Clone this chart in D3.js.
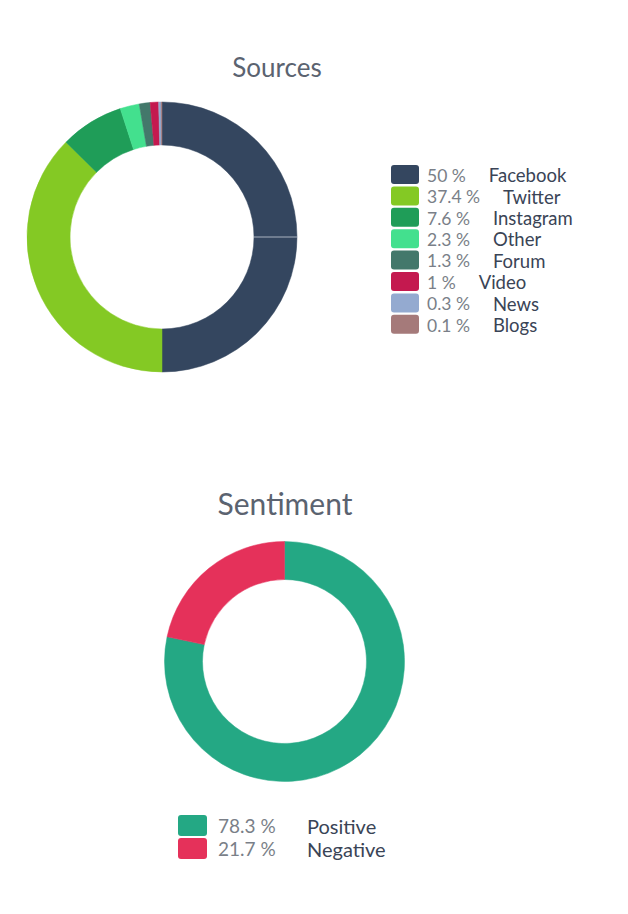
<!DOCTYPE html>
<html>
<head>
<meta charset="utf-8">
<script src="https://cdn.jsdelivr.net/npm/d3@7"></script>
<style>
  html, body { margin: 0; padding: 0; background: #fff; }
  svg { display: block; font-family: Lato, "Open Sans", sans-serif; }
</style>
</head>
<body>
<svg id="chart" width="628" height="914"></svg>
<script>
// ---- Data ----
const sourceCategories = ["Facebook", "Twitter", "Instagram", "Other", "Forum", "Video", "News", "Blogs"];
const sourceValues = [50, 37.4, 7.6, 2.3, 1.3, 1, 0.3, 0.1];
const sourceLabels = ["50 %", "37.4 %", "7.6 %", "2.3 %", "1.3 %", "1 %", "0.3 %", "0.1 %"];
const sourceColors = ["#34465f", "#84c924", "#1f9d58", "#43e08e", "#43786b", "#c4194f", "#94aad0", "#a57a7a"];

const sentimentCategories = ["Positive", "Negative"];
const sentimentValues = [78.3, 21.7];
const sentimentLabels = ["78.3 %", "21.7 %"];
const sentimentColors = ["#24a884", "#e5315a"];

const svg = d3.select("#chart");

function donut(opts) {
  const g = svg.append("g").attr("transform", `translate(${opts.cx},${opts.cy})`);
  const pie = d3.pie().sort(null).value(d => d.value);
  const arc = d3.arc().innerRadius(opts.inner).outerRadius(opts.outer);
  const data = opts.categories.map((c, i) => ({ name: c, value: opts.values[i], color: opts.colors[i] }));
  g.selectAll("path").data(pie(data)).join("path")
    .attr("d", arc)
    .attr("fill", d => d.data.color)
    .attr("stroke", d => d.data.color)
    .attr("stroke-width", 0.5);
  return g;
}

function legend(opts) {
  const g = svg.append("g").attr("transform", `translate(${opts.x},${opts.y})`);
  const rows = g.selectAll("g.row").data(opts.categories).join("g")
    .attr("class", "row")
    .attr("transform", (d, i) => `translate(0,${i * opts.pitch})`);
  rows.append("rect")
    .attr("width", opts.sw).attr("height", opts.sh)
    .attr("rx", 3).attr("ry", 3)
    .attr("fill", (d, i) => opts.colors[i]);
  const pct = rows.append("text")
    .attr("x", opts.sw + opts.gap1)
    .attr("y", opts.sh / 2)
    .attr("dy", "0.42em")
    .attr("font-size", opts.fontSize)
    .attr("fill", "#7a7f88")
    .text((d, i) => opts.labels[i]);
  rows.append("text")
    .attr("x", function(d, i) {
      if (opts.alignLabels != null) return opts.alignLabels;
      const w = pct.nodes()[i].getComputedTextLength();
      return opts.sw + opts.gap1 + w + opts.gap2;
    })
    .attr("y", opts.sh / 2)
    .attr("dy", "0.42em")
    .attr("font-size", opts.labelSize || opts.fontSize)
    .attr("fill", "#3a4456")
    .text(d => d);
}

// Sources
svg.append("text").attr("x", 277).attr("y", 77).attr("text-anchor", "middle")
  .attr("font-size", 26).attr("fill", "#5b6370").text("Sources");
const gs = donut({ cx: 162, cy: 237, inner: 92, outer: 135, categories: sourceCategories, values: sourceValues, colors: sourceColors });
// thin divider in Facebook slice at 3 o'clock
const p1 = d3.pointRadial(Math.PI / 2, 92), p2 = d3.pointRadial(Math.PI / 2, 135);
gs.append("line").attr("x1", p1[0]).attr("y1", p1[1]).attr("x2", p2[0]).attr("y2", p2[1])
  .attr("stroke", "#a9b2c0").attr("stroke-width", 1);
legend({ x: 391, y: 165, pitch: 21.4, sw: 28, sh: 19, gap1: 8, gap2: 23, fontSize: 17.5, labelSize: 18.5,
  categories: sourceCategories, labels: sourceLabels, colors: sourceColors });

// Sentiment
svg.append("text").attr("x", 285).attr("y", 515).attr("text-anchor", "middle")
  .attr("font-size", 30).attr("fill", "#5b6370").text("Sentiment");
donut({ cx: 284.5, cy: 661.5, inner: 82, outer: 120, categories: sentimentCategories, values: sentimentValues, colors: sentimentColors });
legend({ x: 178, y: 815, pitch: 23, sw: 29, sh: 21, gap1: 11, gap2: 30, fontSize: 19, labelSize: 20, alignLabels: 129,
  categories: sentimentCategories, labels: sentimentLabels, colors: sentimentColors });
</script>
</body>
</html>
